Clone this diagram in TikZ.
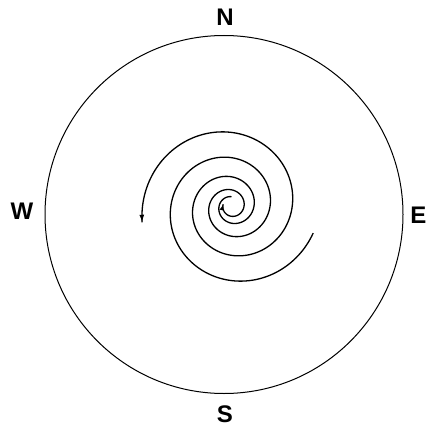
\documentclass[tikz,border=0pt]{standalone}
\usepackage{fontspec}
\setmainfont{Liberation Sans}
\usetikzlibrary{arrows.meta, decorations.markings}
\tikzset{
    rim/.style={line width=1pt},
    spiralarm/.style={line width=1.3pt},
    compass/.style={font=\fontsize{24}{24}\selectfont\bfseries, inner sep=0pt},
    tipend/.style={postaction={decorate}, decoration={markings,
        mark=at position 1 with {\arrow{Latex[length=7.5pt,width=5pt]}}}},
    tipstart/.style={postaction={decorate}, decoration={markings,
        mark=at position 0 with {\arrowreversed{Latex[length=6pt,width=4.5pt]}}}},
    declare function={sprad(\t)=38.5+10.63*(\t/100)+0.945*(\t/100)*(\t/100);}
}

\begin{document}
\begin{tikzpicture}[x=1pt, y=-1pt]
  \useasboundingbox (0,0) rectangle (427,428);

  % compass ring
  \coordinate (ctr) at (224,214.5);
  \draw[rim] (ctr) circle[radius=179pt];

  \node[compass] (north) at (225,17) {N};
  \node[compass] (south) at (225,414) {S};
  \node[compass] (west) at (22,211) {W};
  \node[compass, anchor=east] (east) at (426.5,215) {E};

  % two-armed spiral
  \coordinate (eye) at (231.5,206.5);
  \draw[spiralarm, tipstart, shift={(eye)}] plot[domain=-555:342, samples=400]
        ({sprad(\x)*cos(\x)}, {-sprad(\x)*sin(\x)});
  \draw[spiralarm, tipend, shift={(eye)}] plot[domain=-450:370, samples=400]
        ({-sprad(\x)*cos(\x)}, {sprad(\x)*sin(\x)});
\end{tikzpicture}
\end{document}
